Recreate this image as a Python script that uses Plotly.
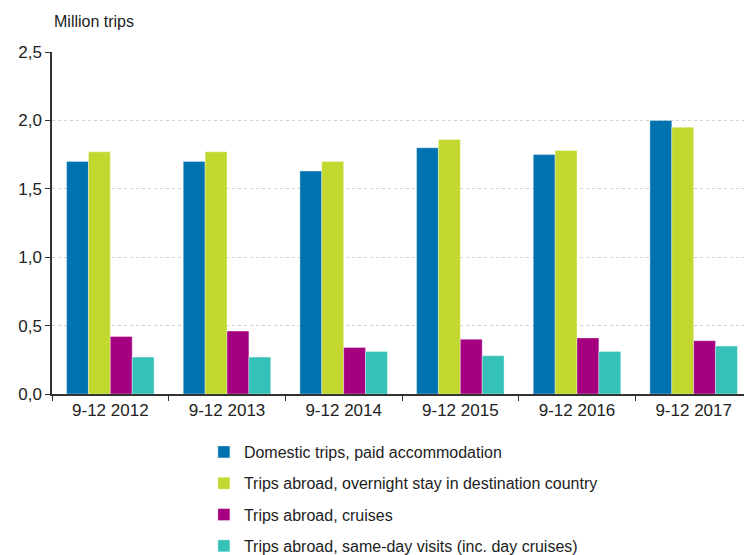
import plotly.graph_objects as go

categories = ["9-12 2012", "9-12 2013", "9-12 2014", "9-12 2015", "9-12 2016", "9-12 2017"]
domestic = [1.70, 1.70, 1.63, 1.80, 1.75, 2.00]
abroad_overnight = [1.77, 1.77, 1.70, 1.86, 1.78, 1.95]
cruises = [0.42, 0.46, 0.34, 0.40, 0.41, 0.39]
same_day = [0.27, 0.27, 0.31, 0.28, 0.31, 0.35]

series_names = [
    "Domestic trips, paid accommodation",
    "Trips abroad, overnight stay in destination country",
    "Trips abroad, cruises",
    "Trips abroad, same-day visits (inc. day cruises)",
]
series_values = [domestic, abroad_overnight, cruises, same_day]
colors = ["#0072AF", "#C2D82E", "#A5007F", "#36C1B8"]

fig = go.Figure()
for i, (name, vals, col) in enumerate(zip(series_names, series_values, colors)):
    fig.add_trace(go.Bar(
        x=categories, y=vals, name=name,
        marker=dict(color=col, line=dict(color="rgba(255,255,255,0.6)", width=0.6)),
        legendgroup=f"g{i}",
    ))

FONT = "Liberation Sans, Arial, sans-serif"
fig.update_layout(
    width=744, height=547,
    margin=dict(l=44, r=0, t=44, b=161, autoexpand=False),
    paper_bgcolor="white", plot_bgcolor="white",
    barmode="group", bargap=0.25, bargroupgap=0,
    separators=", ",
    font=dict(family=FONT, size=16, color="#222222"),
    showlegend=True,
    legend=dict(
        orientation="v", x=0.217, xanchor="left", y=-0.12, yanchor="top",
        font=dict(size=16, color="#222222"), tracegroupgap=7.5,
        itemwidth=30, bgcolor="rgba(0,0,0,0)",
    ),
    xaxis=dict(
        showline=True, linecolor="#333333", linewidth=1.5,
        ticks="outside", tickson="boundaries", ticklen=5, tickcolor="#333333",
        tickfont=dict(size=17, color="#222222"), showgrid=False,
    ),
    yaxis=dict(
        range=[0, 2.5], dtick=0.5, tickformat=".1f",
        showline=True, linecolor="#333333", linewidth=1.5,
        ticks="outside", ticklen=5, tickcolor="#333333",
        tickfont=dict(size=17, color="#222222"),
        showgrid=True, gridcolor="#d0d0d0", griddash="dot", gridwidth=1,
        zeroline=False,
    ),
    annotations=[dict(
        text="Million trips", xref="paper", yref="paper",
        x=0, y=1, xanchor="left", yanchor="bottom", yshift=20,
        showarrow=False, font=dict(size=16, color="#222222"),
    )],
)

fig.write_html("out.html")
